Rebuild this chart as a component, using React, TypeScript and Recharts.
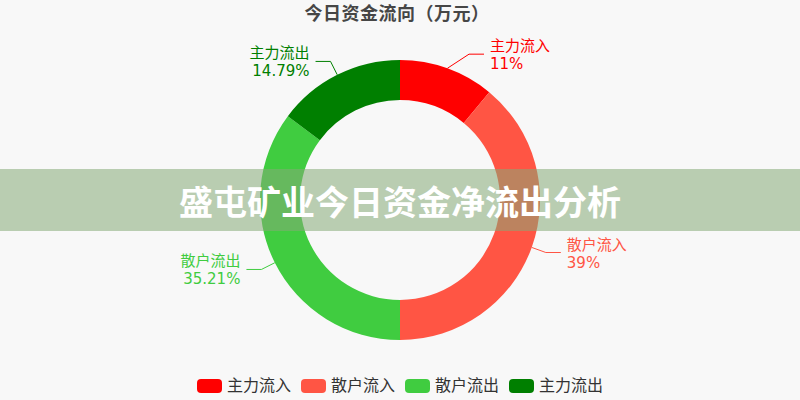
import React from "react";
import { PieChart, Pie, Cell, Legend } from "recharts";

const categories = ["主力流入", "散户流入", "散户流出", "主力流出"];
const percents = [11, 39, 35.21, 14.79];
const colors = ["#ff0000", "#ff5544", "#40cc40", "#007f00"];
const chartTitle = "今日资金流向（万元）";
const bannerText = "盛屯矿业今日资金净流出分析";

const data = categories.map((name, i) => ({ name, value: percents[i], color: colors[i] }));

const FONT = "'DejaVu Sans', 'Noto Sans CJK SC', sans-serif";
const RAD = Math.PI / 180;

const renderLabel = (props: any) => {
  const { cx, cy, midAngle, outerRadius, index } = props;
  const item = data[index];
  const c = Math.cos(-midAngle * RAD);
  const s = Math.sin(-midAngle * RAD);
  const sign = c >= 0 ? 1 : -1;
  const x0 = cx + outerRadius * c;
  const y0 = cy + outerRadius * s;
  let dx = (outerRadius + 15) * c;
  if (Math.abs(dx) < 69) dx = sign * 69;
  const x1 = cx + dx;
  const y1 = cy + (outerRadius + 15) * s;
  const x2 = x1 + sign * 15;
  const tx = x2 + sign * 6;
  const anchor = sign > 0 ? "start" : "end";
  return (
    <g key={`lbl-${index}`}>
      <polyline
        points={`${x0},${y0} ${x1},${y1} ${x2},${y1}`}
        fill="none"
        stroke={item.color}
        strokeWidth={1}
      />
      <text x={tx} y={y1 - 3} fill={item.color} fontFamily={FONT} textAnchor={anchor} fontSize={15}>
        <tspan x={tx}>{item.name}</tspan>
        <tspan x={tx} dy={18}>{`${item.value}%`}</tspan>
      </text>
    </g>
  );
};

const renderLegend = () => (
  <div style={{ display: "flex", justifyContent: "center", alignItems: "center", fontFamily: FONT, fontSize: 16, color: "#333" }}>
    {data.map((d, i) => (
      <div key={d.name} style={{ display: "flex", alignItems: "center", marginLeft: i === 0 ? 0 : 10 }}>
        <span style={{ display: "inline-block", width: 25, height: 14, borderRadius: 4, background: d.color, marginRight: 5 }} />
        <span style={{ lineHeight: "16px" }}>{d.name}</span>
      </div>
    ))}
  </div>
);

export default function App() {
  return (
    <div style={{ position: "fixed", left: 0, top: 0, width: 800, height: 400, background: "#f8f8f8", overflow: "hidden" }}>
      <div
        style={{
          position: "absolute",
          left: 0,
          top: 2,
          width: 794,
          textAlign: "center",
          fontFamily: FONT,
          fontSize: 18,
          fontWeight: "bold",
          letterSpacing: 0.5,
          color: "#464646",
          lineHeight: "24px",
        }}
      >
        {chartTitle}
      </div>
      <PieChart
        width={800}
        height={400}
        margin={{ top: 0, right: 0, bottom: 0, left: 0 }}
        style={{ position: "absolute", left: 0, top: 0 }}
      >
        <Pie
          data={data}
          dataKey="value"
          nameKey="name"
          cx={400}
          cy={200}
          innerRadius={100}
          outerRadius={140}
          startAngle={90}
          endAngle={-270}
          stroke="none"
          label={renderLabel}
          labelLine={false}
          isAnimationActive={false}
        >
          {data.map((d) => (
            <Cell key={d.name} fill={d.color} />
          ))}
        </Pie>
        <Legend
          content={renderLegend}
          verticalAlign="bottom"
          wrapperStyle={{ position: "absolute", left: 0, width: 800, top: 378, bottom: "auto" }}
        />
      </PieChart>
      <div
        style={{
          position: "absolute",
          left: 0,
          top: 169,
          width: 800,
          height: 62,
          background: "rgba(133,170,119,0.55)",
          display: "flex",
          alignItems: "center",
          justifyContent: "center",
          fontFamily: "'Noto Sans CJK SC', sans-serif",
          fontWeight: "bold",
          fontSize: 34,
          color: "#ffffff",
        }}
      >
        {bannerText}
      </div>
    </div>
  );
}
